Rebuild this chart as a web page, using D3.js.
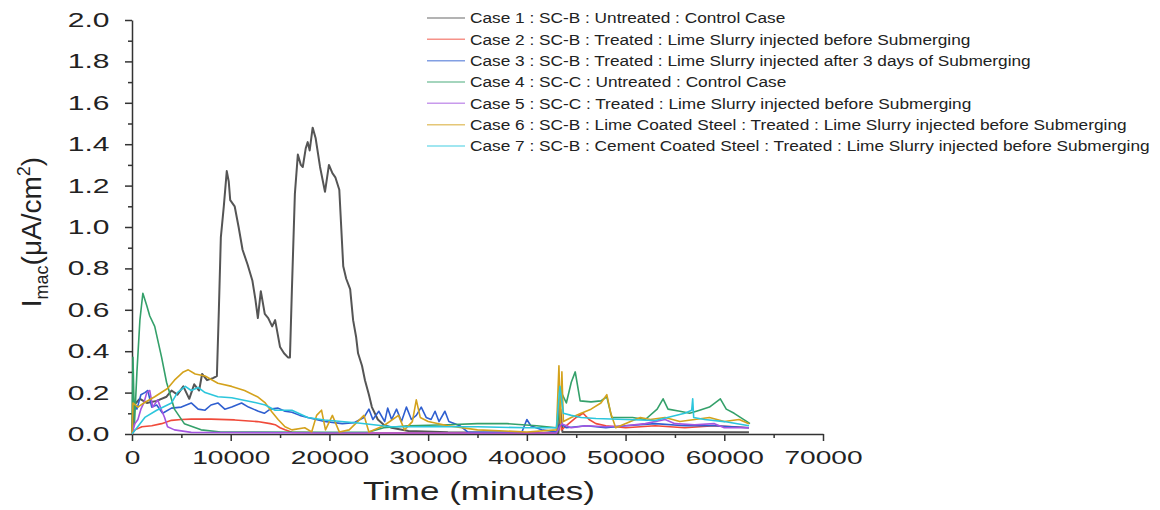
<!DOCTYPE html>
<html>
<head>
<meta charset="utf-8">
<script src="https://cdn.jsdelivr.net/npm/d3@7"></script>
<style>
  body { margin: 0; background: #fff; }
  text { font-family: "Liberation Sans", Arial, sans-serif; fill: #222; }
</style>
</head>
<body>
<svg id="chart"></svg>
<script>
// ---- data (time in minutes, current in uA/cm2) ----
const case1 = [[0,0],[200,0.14],[800,0.17],[1500,0.15],[2500,0.16],[3500,0.18],[4000,0.21],[4600,0.19],[5200,0.23],[5800,0.17],[6300,0.24],[6800,0.21],[7100,0.29],[7600,0.26],[8200,0.27],[8600,0.28],[8800,0.6],[9000,0.95],[9300,1.1],[9600,1.27],[9800,1.22],[9950,1.13],[10400,1.1],[10800,1.0],[11200,0.89],[11700,0.82],[12200,0.74],[12500,0.65],[12750,0.56],[13050,0.69],[13450,0.58],[13800,0.56],[14200,0.52],[14500,0.55],[15000,0.42],[15400,0.39],[15800,0.37],[16000,0.37],[16200,0.7],[16500,1.16],[16800,1.35],[17100,1.3],[17300,1.29],[17600,1.38],[17800,1.41],[18000,1.37],[18300,1.48],[18600,1.43],[19050,1.29],[19550,1.17],[19950,1.3],[20300,1.26],[20600,1.24],[21000,1.18],[21400,0.81],[21700,0.75],[22100,0.7],[22400,0.55],[22700,0.47],[22900,0.39],[23300,0.33],[23600,0.26],[24000,0.19],[24300,0.13],[24900,0.07],[25500,0.045],[26300,0.03],[28000,0.015],[32000,0.008],[40000,0.005],[43200,0.005],[43400,0.12],[43600,0.01],[50000,0.01],[62500,0.008]];
const case2 = [[0,0],[300,0.02],[1000,0.035],[2000,0.04],[3000,0.05],[4000,0.066],[5000,0.07],[6000,0.072],[8000,0.072],[10400,0.068],[12700,0.06],[14000,0.05],[14500,0.045],[15000,0.03],[15500,0.02],[16200,0.008],[20000,0.005],[30000,0.005],[43000,0.005],[43300,0.15],[43500,0.02],[44000,0.04],[45000,0.08],[45700,0.1],[46300,0.07],[47000,0.05],[48000,0.04],[50000,0.03],[53000,0.04],[56000,0.03],[59000,0.04],[61000,0.035],[62500,0.03]];
const case3 = [[0,0],[100,0.15],[500,0.12],[900,0.19],[1300,0.2],[1600,0.21],[2000,0.13],[2500,0.14],[3100,0.1],[4000,0.125],[5000,0.13],[6000,0.15],[6700,0.12],[7400,0.115],[8000,0.14],[8700,0.15],[9400,0.12],[10100,0.13],[11100,0.15],[11800,0.13],[12800,0.11],[13400,0.1],[14000,0.12],[14800,0.125],[15500,0.11],[16200,0.105],[17000,0.09],[17800,0.08],[19500,0.06],[21300,0.05],[22500,0.055],[23500,0.08],[24000,0.12],[24400,0.07],[25000,0.11],[25600,0.06],[25900,0.125],[26300,0.07],[26800,0.12],[27300,0.06],[27800,0.13],[28300,0.07],[28800,0.09],[29300,0.13],[29800,0.08],[30300,0.07],[30700,0.11],[31100,0.06],[31700,0.11],[32100,0.06],[32700,0.05],[33200,0.04],[34000,0.01],[36000,0.008],[39500,0.01],[40000,0.07],[40400,0.04],[41500,0.02],[43000,0.01],[43400,0.05],[44000,0.03],[46000,0.04],[48000,0.03],[50000,0.04],[53000,0.05],[56000,0.04],[59000,0.04],[62500,0.03]];
const case4 = [[0,0.02],[100,0.37],[250,0.05],[500,0.3],[800,0.55],[1100,0.68],[1500,0.62],[1800,0.57],[2300,0.52],[3000,0.37],[3500,0.25],[4300,0.12],[5300,0.05],[7000,0.02],[9000,0.01],[20000,0.008],[24000,0.01],[25500,0.03],[28000,0.04],[32000,0.045],[35000,0.05],[38000,0.05],[41000,0.04],[43000,0.03],[43300,0.1],[43500,0.2],[44000,0.15],[44500,0.25],[44900,0.3],[45400,0.16],[46500,0.155],[47500,0.16],[48100,0.18],[48600,0.08],[50700,0.08],[52000,0.07],[53200,0.12],[53800,0.17],[54300,0.12],[55500,0.11],[56500,0.1],[57500,0.115],[58500,0.13],[59600,0.17],[60200,0.12],[61000,0.1],[62300,0.06],[62600,0.05]];
const case5 = [[0,0],[300,0.05],[600,0.07],[900,0.12],[1200,0.15],[1500,0.2],[1800,0.21],[2100,0.13],[2600,0.165],[3000,0.115],[3300,0.08],[3600,0.035],[4300,0.02],[6000,0.008],[20000,0.005],[43000,0.005],[43500,0.05],[44500,0.03],[46000,0.04],[48000,0.035],[50000,0.04],[52000,0.05],[54000,0.07],[55000,0.05],[57000,0.045],[59000,0.05],[60000,0.03],[62500,0.03]];
const case6 = [[0,0],[100,0.15],[600,0.13],[1200,0.15],[2300,0.18],[3600,0.22],[4300,0.26],[5200,0.3],[5700,0.31],[6400,0.29],[7400,0.28],[8700,0.245],[10100,0.23],[11400,0.21],[12700,0.18],[13500,0.15],[14200,0.105],[14800,0.07],[15500,0.035],[16200,0.02],[17500,0.03],[18200,0.01],[18700,0.09],[19200,0.115],[19600,0.02],[20300,0.09],[21000,0.01],[22000,0.02],[23500,0.09],[24000,0.01],[25500,0.04],[27000,0.09],[27600,0.02],[28400,0.06],[28800,0.165],[29200,0.08],[30000,0.06],[32000,0.04],[35000,0.02],[40000,0.01],[43000,0.02],[43250,0.33],[43400,0.05],[43550,0.3],[43700,0.06],[44500,0.08],[45500,0.1],[46500,0.12],[47500,0.15],[48100,0.19],[48500,0.1],[49000,0.03],[50500,0.06],[51500,0.08],[52500,0.07],[54000,0.08],[55500,0.06],[57000,0.07],[58500,0.08],[60000,0.06],[61500,0.07],[62500,0.05]];
const case7 = [[0,0],[500,0.03],[1300,0.08],[2500,0.115],[4000,0.15],[4600,0.2],[5400,0.23],[6000,0.21],[6700,0.225],[7400,0.2],[8700,0.18],[10100,0.175],[12200,0.155],[13500,0.14],[14500,0.115],[16200,0.115],[17800,0.08],[19500,0.068],[22900,0.053],[26300,0.035],[30000,0.035],[35000,0.035],[40000,0.03],[43000,0.03],[43350,0.23],[43700,0.1],[44500,0.09],[45500,0.08],[47000,0.075],[50000,0.07],[53000,0.065],[56000,0.1],[56700,0.115],[56800,0.17],[56900,0.08],[58000,0.07],[60000,0.06],[62500,0.04]];

const caseLabels = [
    "Case 1 : SC-B : Untreated : Control Case",
    "Case 2 : SC-B : Treated : Lime Slurry injected before Submerging",
    "Case 3 : SC-B : Treated : Lime Slurry injected after 3 days of Submerging",
    "Case 4 : SC-C : Untreated : Control Case",
    "Case 5 : SC-C : Treated : Lime Slurry injected before Submerging",
    "Case 6 : SC-B : Lime Coated Steel : Treated : Lime Slurry injected before Submerging",
    "Case 7 : SC-B : Cement Coated Steel : Treated : Lime Slurry injected before Submerging"
];
const caseColors = ["#555555", "#f04a3a", "#2f5fd0", "#34a06a", "#a456e0", "#d4a21c", "#2cc6dc"];
const xTicks = [0, 10000, 20000, 30000, 40000, 50000, 60000, 70000];
const yTicks = [0.0, 0.2, 0.4, 0.6, 0.8, 1.0, 1.2, 1.4, 1.6, 1.8, 2.0];

const series = [case1, case2, case3, case4, case5, case6, case7];

function drawChart() {
    const width = 1160, height = 510;
    const margin = { left: 132, top: 20, right: 337, bottom: 76 };

    const svg = d3.select("#chart").attr("width", width).attr("height", height);

    const x = d3.scaleLinear().domain([0, 70000]).range([margin.left, width - margin.right]);
    const y = d3.scaleLinear().domain([0, 2]).range([height - margin.bottom, margin.top]);

    // minor ticks first, then the main axes on top
    svg.append("g")
        .attr("transform", `translate(0,${y(0)})`)
        .call(d3.axisBottom(x).tickValues(d3.range(5000, 70000, 10000)).tickSize(4).tickFormat(""))
        .call(g => g.select(".domain").remove())
        .selectAll("line").attr("stroke", "#333").attr("stroke-width", 1.5);

    svg.append("g")
        .attr("transform", `translate(${x(0)},0)`)
        .call(d3.axisLeft(y).tickValues(d3.range(0.1, 2, 0.2)).tickSize(4).tickFormat(""))
        .call(g => g.select(".domain").remove())
        .selectAll("line").attr("stroke", "#333").attr("stroke-width", 1.5);

    const xAxis = svg.append("g")
        .attr("transform", `translate(0,${y(0)})`)
        .call(d3.axisBottom(x).tickValues(xTicks).tickSize(7).tickSizeOuter(0).tickPadding(10).tickFormat(d3.format("d")));
    xAxis.select(".domain").attr("stroke", "#333").attr("stroke-width", 1.5);
    xAxis.selectAll("line").attr("stroke", "#333").attr("stroke-width", 1.5);
    xAxis.selectAll("text")
        .attr("font-size", 19)
        .attr("font-family", "Liberation Sans, Arial, sans-serif")
        .attr("fill", "#222")
        .attr("transform", "scale(1.48,1)");

    const yAxis = svg.append("g")
        .attr("transform", `translate(${x(0)},0)`)
        .call(d3.axisLeft(y).tickValues(yTicks).tickSize(7).tickSizeOuter(0).tickPadding(0).tickFormat(d3.format(".1f")));
    yAxis.select(".domain").attr("stroke", "#333").attr("stroke-width", 1.5);
    yAxis.selectAll("line").attr("stroke", "#333").attr("stroke-width", 1.5);
    yAxis.selectAll("text")
        .attr("x", -15)
        .attr("font-size", 20)
        .attr("font-family", "Liberation Sans, Arial, sans-serif")
        .attr("fill", "#222")
        .attr("transform", "scale(1.5,1)");

    // data lines
    const line = d3.line()
        .x(d => x(d[0]))
        .y(d => y(d[1]));

    svg.append("g")
        .selectAll("path")
        .data(series)
        .enter().append("path")
        .attr("d", line)
        .attr("fill", "none")
        .attr("stroke", (d, i) => caseColors[i])
        .attr("stroke-width", (d, i) => i === 0 ? 2 : 1.6)
        .attr("stroke-linejoin", "round");

    // axis titles
    svg.append("text")
        .attr("transform", `translate(479,500) scale(1.4,1)`)
        .attr("text-anchor", "middle")
        .attr("font-size", 25)
        .text("Time (minutes)");

    const yTitle = svg.append("text")
        .attr("transform", "translate(41,232) rotate(-90)")
        .attr("text-anchor", "middle")
        .attr("font-size", 28);
    yTitle.append("tspan").text("I");
    yTitle.append("tspan").attr("font-size", 18).attr("dy", 7).text("mac");
    yTitle.append("tspan").attr("dy", -7).text("(\u03BCA/cm");
    yTitle.append("tspan").attr("font-size", 18).attr("dy", -11).text("2");
    yTitle.append("tspan").attr("dy", 11).text(")");

    // legend
    const legend = svg.append("g").attr("class", "legend");
    const rowY = d3.scaleLinear().domain([0, 6]).range([18, 146]);

    caseLabels.forEach((label, i) => {
        legend.append("line")
            .attr("x1", 427).attr("x2", 465)
            .attr("y1", rowY(i)).attr("y2", rowY(i))
            .attr("stroke", caseColors[i])
            .attr("stroke-opacity", 0.6)
            .attr("stroke-width", 1.5);
    });

    const legendText = legend.selectAll("text.lbl")
        .data(caseLabels)
        .enter().append("text")
        .attr("class", "lbl")
        .attr("x", 0)
        .attr("y", 0)
        .attr("dy", "0.35em")
        .attr("font-size", 15.5)
        .attr("fill", "#333")
        .text(d => d);

    // fit the longest label into the same span as the original
    const longest = d3.max(legendText.nodes(), n => n.getComputedTextLength());
    const k = 680 / longest;
    legendText.attr("transform", (d, i) => `translate(470,${rowY(i)}) scale(${k},1)`);
}

drawChart();
</script>
</body>
</html>
